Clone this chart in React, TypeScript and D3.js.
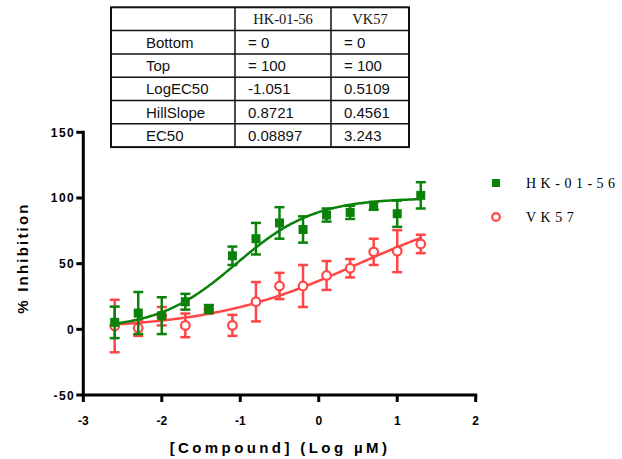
import React, { useRef, useEffect } from "react";
import * as d3 from "d3";

// log concentration (µM)
const logConc = [-2.6, -2.3, -2.0, -1.7, -1.4, -1.1, -0.8, -0.5, -0.2, 0.1, 0.4, 0.7, 1.0, 1.3];

const hkMean = [5.3, 12.4, 10.4, 21, 15.5, 56, 69, 81, 76, 87, 89, 94, 88, 102];
const hkErr = [12, 16, 14, 6, 3, 7, 12, 12, 10, 5, 5, 3, 10, 10];

const vkMean = [2.5, 1, 10, 3, 15, 3, 21, 33, 33, 41, 46.5, 59, 59.5, 65];
const vkErr = [20, 6, 7, 9, 3, 8, 15, 10, 16, 11, 7, 10, 16, 7];

// fit parameters, as printed in the table
const fitHeaders = ["", "HK-01-56", "VK57"];
const fitRows = [
  ["Bottom", "= 0", "= 0"],
  ["Top", "= 100", "= 100"],
  ["LogEC50", "-1.051", "0.5109"],
  ["HillSlope", "0.8721", "0.4561"],
  ["EC50", "0.08897", "3.243"],
];
const hkFit = { bottom: 0, top: 100, logEC50: -1.051, hill: 0.8721 };
const vkFit = { bottom: 0, top: 100, logEC50: 0.5109, hill: 0.4561 };

const xTicks = [-3, -2, -1, 0, 1, 2];
const yTicks = [-50, 0, 50, 100, 150];

const GREEN = "#0a820a";
const RED = "#ff4545";

export default function App() {
  const svgRef = useRef<SVGSVGElement>(null);

  useEffect(() => {
    const svg = d3.select(svgRef.current);
    svg.selectAll("*").remove();

    const x = d3.scaleLinear().domain([-3, 2]).range([83.3, 475.7]);
    const y = d3.scaleLinear().domain([-50, 150]).range([395, 132.3]);

    // table
    const tx = [111, 235, 331, 409];
    const rowH = 23.3;
    const ty0 = 7.3;
    const allRows = [fitHeaders, ...fitRows];
    const tbl = svg.append("g");
    tbl
      .append("rect")
      .attr("x", tx[0])
      .attr("y", ty0)
      .attr("width", tx[3] - tx[0])
      .attr("height", rowH * allRows.length)
      .attr("fill", "white")
      .attr("stroke", "#111")
      .attr("stroke-width", 2);
    for (let i = 1; i < allRows.length; i++) {
      tbl
        .append("line")
        .attr("x1", tx[0])
        .attr("x2", tx[3])
        .attr("y1", ty0 + i * rowH)
        .attr("y2", ty0 + i * rowH)
        .attr("stroke", "#111")
        .attr("stroke-width", 1.5);
    }
    [tx[1], tx[2]].forEach((cx) =>
      tbl
        .append("line")
        .attr("x1", cx)
        .attr("x2", cx)
        .attr("y1", ty0)
        .attr("y2", ty0 + rowH * allRows.length)
        .attr("stroke", "#111")
        .attr("stroke-width", 1.5)
    );
    allRows.forEach((row, i) => {
      const by = ty0 + i * rowH + 17;
      row.forEach((cell, j) => {
        if (!cell) return;
        if (i === 0) {
          tbl
            .append("text")
            .attr("x", (tx[j] + tx[j + 1]) / 2)
            .attr("y", by)
            .attr("text-anchor", "middle")
            .attr("font-family", "Liberation Serif, Times New Roman, serif")
            .attr("font-size", 14.5)
            .attr("fill", "#111")
            .text(cell);
        } else {
          tbl
            .append("text")
            .attr("x", j === 0 ? 146 : tx[j] + 13)
            .attr("y", by)
            .attr("font-family", "Liberation Sans, Arial, sans-serif")
            .attr("font-size", 15)
            .attr("fill", "#111")
            .text(cell);
        }
      });
    });

    // axes
    const ax = svg.append("g").attr("font-family", "Liberation Sans, Arial, sans-serif");
    ax.append("line")
      .attr("x1", x(-3)).attr("x2", x(-3))
      .attr("y1", y(150) - 1.5).attr("y2", y(-50) + 1.5)
      .attr("stroke", "black").attr("stroke-width", 3);
    ax.append("line")
      .attr("x1", x(-3) - 1.5).attr("x2", x(2) + 1.5)
      .attr("y1", y(-50)).attr("y2", y(-50))
      .attr("stroke", "black").attr("stroke-width", 3);

    yTicks.forEach((t) => {
      ax.append("line")
        .attr("x1", x(-3) - 7).attr("x2", x(-3))
        .attr("y1", y(t)).attr("y2", y(t))
        .attr("stroke", "black").attr("stroke-width", 3);
      ax.append("text")
        .attr("x", x(-3) - 8)
        .attr("y", y(t) + 4.5)
        .attr("text-anchor", "end")
        .attr("font-size", 12)
        .attr("font-weight", "bold")
        .attr("letter-spacing", 1.5)
        .text(String(t));
    });
    xTicks.forEach((t) => {
      ax.append("line")
        .attr("x1", x(t)).attr("x2", x(t))
        .attr("y1", y(-50)).attr("y2", y(-50) + 7)
        .attr("stroke", "black").attr("stroke-width", 3);
      ax.append("text")
        .attr("x", x(t))
        .attr("y", 425)
        .attr("text-anchor", "middle")
        .attr("font-size", 12)
        .attr("font-weight", "bold")
        .text(String(t));
    });

    ax.append("text")
      .attr("x", 280)
      .attr("y", 453)
      .attr("text-anchor", "middle")
      .attr("font-size", 15)
      .attr("font-weight", "bold")
      .attr("letter-spacing", 3.4)
      .text("[Compound] (Log µM)");
    ax.append("text")
      .attr("transform", "translate(28,258) rotate(-90)")
      .attr("text-anchor", "middle")
      .attr("font-size", 15)
      .attr("font-weight", "bold")
      .attr("letter-spacing", 2.2)
      .text("% Inhibition");

    // series
    const drawSeries = (
      mean: number[],
      err: number[],
      fit: { bottom: number; top: number; logEC50: number; hill: number },
      color: string,
      marker: "square" | "circle"
    ) => {
      const g = svg.append("g");
      logConc.forEach((c, i) => {
        const x0 = x(c);
        const lo = y(mean[i] - err[i]);
        const hi = y(mean[i] + err[i]);
        g.append("line").attr("x1", x0).attr("x2", x0).attr("y1", lo).attr("y2", hi)
          .attr("stroke", color).attr("stroke-width", 2.5);
        [lo, hi].forEach((yy) =>
          g.append("line").attr("x1", x0 - 5).attr("x2", x0 + 5).attr("y1", yy).attr("y2", yy)
            .attr("stroke", color).attr("stroke-width", 2.5)
        );
      });
      const curveX = d3.range(logConc[0], logConc[logConc.length - 1] + 0.001, 0.02);
      const hill = (v: number) =>
        fit.bottom + (fit.top - fit.bottom) / (1 + Math.pow(10, (fit.logEC50 - v) * fit.hill));
      const line = d3
        .line<number>()
        .x((v) => x(v))
        .y((v) => y(hill(v)));
      g.append("path")
        .attr("d", line(curveX))
        .attr("fill", "none")
        .attr("stroke", color)
        .attr("stroke-width", 2.5);
      logConc.forEach((c, i) => {
        if (marker === "square") {
          g.append("rect")
            .attr("x", x(c) - 4.5)
            .attr("y", y(mean[i]) - 4.5)
            .attr("width", 9)
            .attr("height", 9)
            .attr("fill", color);
        } else {
          g.append("circle")
            .attr("cx", x(c))
            .attr("cy", y(mean[i]))
            .attr("r", 4.3)
            .attr("fill", "white")
            .attr("stroke", color)
            .attr("stroke-width", 2.2);
        }
      });
    };

    drawSeries(vkMean, vkErr, vkFit, RED, "circle");
    drawSeries(hkMean, hkErr, hkFit, GREEN, "square");

    // legend
    const lg = svg.append("g").attr("font-family", "Liberation Serif, Times New Roman, serif");
    lg.append("rect").attr("x", 492).attr("y", 179).attr("width", 8).attr("height", 8).attr("fill", GREEN);
    lg.append("text").attr("x", 526).attr("y", 188).attr("font-size", 14).attr("letter-spacing", 4.5).text("HK-01-56");
    lg.append("circle").attr("cx", 496).attr("cy", 217).attr("r", 3.8)
      .attr("fill", "white").attr("stroke", RED).attr("stroke-width", 2.2);
    lg.append("text").attr("x", 526).attr("y", 222).attr("font-size", 14).attr("letter-spacing", 4.5).text("VK57");
  }, []);

  return (
    <svg
      ref={svgRef}
      width={622}
      height={459}
      style={{ position: "absolute", left: 0, top: 0, background: "white" }}
    />
  );
}
